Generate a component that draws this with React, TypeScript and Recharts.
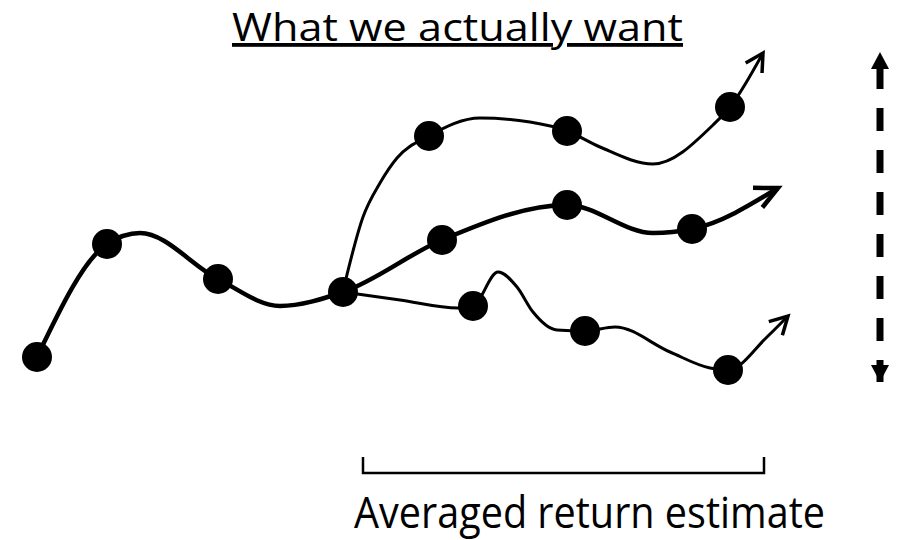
import React from "react";
import { ComposedChart, Line, XAxis, YAxis, Customized } from "recharts";

// positions along the horizon (x) and level (y, measured downward) for each path
const trunkX = [37, 107, 140, 218, 280, 343, 442, 567, 653, 692, 778];
const trunkY = [357, 244, 233, 279, 306, 292, 240, 205, 233, 229, 188];
const trunkDots = [1, 1, 0, 1, 0, 1, 1, 1, 0, 1, 0];

const upperX = [343, 363, 380, 397, 429, 480, 530, 567, 600, 653, 713, 730, 763];
const upperY = [291, 217, 183, 158, 136, 118, 122, 131, 147, 164, 125, 107, 53];
const upperDots = [0, 0, 0, 0, 1, 0, 0, 1, 0, 0, 0, 1, 0];

const lowerX = [343, 400, 458, 473, 498, 517, 533, 557, 585, 615, 670, 710, 728, 767, 788];
const lowerY = [292, 300, 308, 306, 272, 287, 312, 330, 331, 327, 352, 368, 370, 337, 316];
const lowerDots = [0, 0, 0, 1, 0, 0, 0, 0, 1, 0, 0, 0, 1, 0, 0];

const bracketX = [363, 363, 764, 764];
const bracketY = [457, 473, 473, 457];

const spreadX = [880, 880];
const spreadY = [52, 382];

const title = "What we actually want";
const caption = "Averaged return estimate";

const toRows = (xs: number[], ys: number[], dots?: number[]) =>
  xs.map((x, i) => ({ x, y: ys[i], dot: dots ? dots[i] === 1 : false }));

const trunk = toRows(trunkX, trunkY, trunkDots);
const upper = toRows(upperX, upperY, upperDots);
const lower = toRows(lowerX, lowerY, lowerDots);
const bracket = toRows(bracketX, bracketY);
const spread = toRows(spreadX, spreadY);

const openArrowDot = (arm: number, spread: number, width: number) => (props: any) => {
  const { cx, cy, index, points, payload } = props;
  const last = points.length - 1;
  if (index === last) {
    const prev = points[last - 1];
    const ang = Math.atan2(cy - prev.y, cx - prev.x);
    const a1 = ang + Math.PI - spread;
    const a2 = ang + Math.PI + spread;
    return (
      <path
        key={`dot-${index}`}
        d={`M${cx + arm * Math.cos(a1)},${cy + arm * Math.sin(a1)} L${cx},${cy} L${cx + arm * Math.cos(a2)},${cy + arm * Math.sin(a2)}`}
        fill="none"
        stroke="#000"
        strokeWidth={width}
        strokeLinecap="butt"
        strokeLinejoin="miter"
      />
    );
  }
  if (payload.dot) {
    return <circle key={`dot-${index}`} cx={cx} cy={cy} r={15} fill="#000" />;
  }
  return <g key={`dot-${index}`} />;
};

const filledArrowDot = (props: any) => {
  const { cx, cy, index, points } = props;
  const other = index === 0 ? points[points.length - 1] : points[0];
  const ang = Math.atan2(cy - other.y, cx - other.x);
  const len = 17;
  const half = 9;
  const bx = cx - len * Math.cos(ang);
  const by = cy - len * Math.sin(ang);
  const px = -Math.sin(ang) * half;
  const py = Math.cos(ang) * half;
  return (
    <path
      key={`dot-${index}`}
      d={`M${cx},${cy} L${bx + px},${by + py} L${bx - px},${by - py} Z`}
      fill="#000"
    />
  );
};

const Labels = () => (
  <g fontFamily="'Open Sans', sans-serif" fontWeight={500} fill="#000">
    <text
      x={232}
      y={41}
      fontSize={38}
      textLength={451}
      lengthAdjust="spacingAndGlyphs"
      textDecoration="underline"
    >
      {title}
    </text>
    <text x={354} y={528} fontSize={44} textLength={471} lengthAdjust="spacingAndGlyphs">
      {caption}
    </text>
  </g>
);

export default function App() {
  return (
    <div style={{ position: "absolute", left: 0, top: 0, background: "#fff" }}>
      <ComposedChart width={902} height={540} margin={{ top: 0, right: 0, bottom: 0, left: 0 }}>
        <XAxis type="number" dataKey="x" domain={[0, 902]} allowDataOverflow hide />
        <YAxis type="number" dataKey="y" domain={[0, 540]} allowDataOverflow reversed hide />
        <Line
          data={upper}
          dataKey="y"
          type="monotoneX"
          stroke="#000"
          strokeWidth={3}
          dot={openArrowDot(20, 0.5, 3.5)}
          activeDot={false}
          isAnimationActive={false}
        />
        <Line
          data={lower}
          dataKey="y"
          type="monotoneX"
          stroke="#000"
          strokeWidth={3}
          dot={openArrowDot(20, 0.5, 3.5)}
          activeDot={false}
          isAnimationActive={false}
        />
        <Line
          data={trunk}
          dataKey="y"
          type="monotoneX"
          stroke="#000"
          strokeWidth={4.5}
          dot={openArrowDot(25, 0.45, 4.5)}
          activeDot={false}
          isAnimationActive={false}
        />
        <Line
          data={bracket}
          dataKey="y"
          type="linear"
          stroke="#000"
          strokeWidth={2.5}
          dot={false}
          activeDot={false}
          isAnimationActive={false}
        />
        <Line
          data={spread}
          dataKey="y"
          type="linear"
          stroke="#000"
          strokeWidth={7}
          strokeDasharray="23 19"
          strokeDashoffset={28}
          dot={filledArrowDot}
          activeDot={false}
          isAnimationActive={false}
        />
        <Customized component={Labels} />
      </ComposedChart>
    </div>
  );
}
